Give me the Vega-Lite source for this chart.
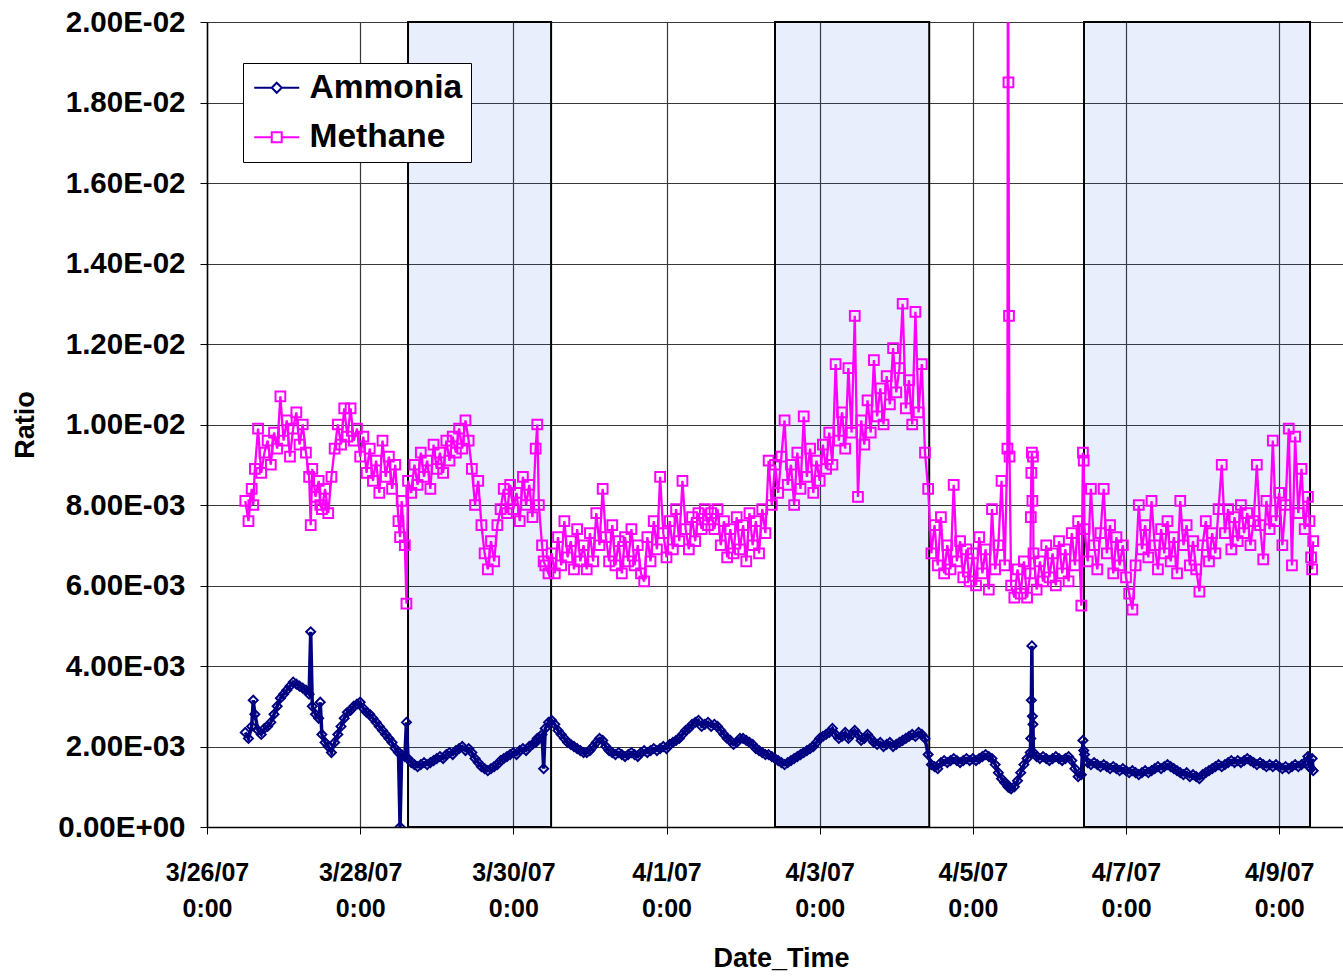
{
  "$schema": "https://vega.github.io/schema/vega-lite/v6.json",
  "width": 1136,
  "height": 805,
  "autosize": {"type": "none"},
  "padding": {"left": 207, "top": 22, "right": 0, "bottom": 149},
  "background": "white",
  "config": {
    "view": {"stroke": null},
    "font": "Liberation Sans",
    "axis": {
      "grid": true,
      "gridColor": "#383838",
      "gridWidth": 1.2,
      "domainColor": "black",
      "domainWidth": 1.5,
      "tickColor": "black",
      "tickSize": 7,
      "labelColor": "black",
      "labelFont": "Liberation Sans",
      "labelFontWeight": "bold",
      "titleColor": "black",
      "titleFont": "Liberation Sans",
      "titleFontWeight": "bold",
      "titleFontSize": 27,
      "labelOverlap": false,
      "labelFlush": false,
      "labelBound": false
    }
  },
  "layer": [
    {
      "data": {
        "values": [
          {"start": "2007-03-28T15:00", "end": "2007-03-30T11:50"},
          {"start": "2007-04-02T10:00", "end": "2007-04-04T10:20"},
          {"start": "2007-04-06T10:50", "end": "2007-04-09T09:40"}
        ]
      },
      "mark": {"type": "rect", "fill": "#1955D7", "fillOpacity": 0.1, "stroke": "black", "strokeWidth": 2},
      "encoding": {
        "x": {
          "field": "start",
          "type": "temporal",
          "scale": {
            "domain": [
              {"year": 2007, "month": 3, "date": 26},
              {"year": 2007, "month": 4, "date": 9, "hours": 20}
            ],
            "nice": false
          },
          "axis": {
            "title": "Date_Time",
            "titlePadding": 24,
            "titleX": 574,
            "values": [
              {"year": 2007, "month": 3, "date": 26},
              {"year": 2007, "month": 3, "date": 28},
              {"year": 2007, "month": 3, "date": 30},
              {"year": 2007, "month": 4, "date": 1},
              {"year": 2007, "month": 4, "date": 3},
              {"year": 2007, "month": 4, "date": 5},
              {"year": 2007, "month": 4, "date": 7},
              {"year": 2007, "month": 4, "date": 9}
            ],
            "labelExpr": "[timeFormat(datum.value, '%-m/%-d/%y'), '0:00']",
            "labelFontSize": 25,
            "labelLineHeight": 36,
            "labelBaseline": "top",
            "labelPadding": 26
          }
        },
        "x2": {"field": "end"},
        "y": {
          "datum": 0,
          "type": "quantitative",
          "scale": {"domain": [0, 0.02], "nice": false},
          "axis": {
            "title": "Ratio",
            "titlePadding": 18,
            "values": [0, 0.002, 0.004, 0.006, 0.008, 0.01, 0.012, 0.014, 0.016, 0.018, 0.02],
            "labelExpr": "datum.value == 0 ? '0.00E+00' : (datum.value < 0.0099 ? format(datum.value * 1000, '.2f') + 'E-03' : format(datum.value * 100, '.2f') + 'E-02')",
            "labelFontSize": 29.5,
            "labelPadding": 15
          }
        },
        "y2": {"datum": 0.02}
      }
    },
    {
      "data": {
        "values": [
          {"t":"2007-03-26T12:00","Ammonia":0.00235,"Methane":0.0081},
          {"t":"2007-03-26T13:00","Ammonia":0.0022,"Methane":0.0076},
          {"t":"2007-03-26T14:00","Ammonia":0.0025,"Methane":0.0084},
          {"t":"2007-03-26T14:30","Ammonia":0.00315,"Methane":0.008},
          {"t":"2007-03-26T15:00","Ammonia":0.0028,"Methane":0.0089},
          {"t":"2007-03-26T16:00","Ammonia":0.0024,"Methane":0.0099},
          {"t":"2007-03-26T17:00","Ammonia":0.0023,"Methane":0.0088},
          {"t":"2007-03-26T18:00","Ammonia":0.00245,"Methane":0.0093},
          {"t":"2007-03-26T19:00","Ammonia":0.0025,"Methane":0.0096},
          {"t":"2007-03-26T20:00","Ammonia":0.0026,"Methane":0.009},
          {"t":"2007-03-26T21:00","Ammonia":0.0028,"Methane":0.0098},
          {"t":"2007-03-26T22:00","Ammonia":0.003,"Methane":0.0094},
          {"t":"2007-03-26T23:00","Ammonia":0.0032,"Methane":0.0107},
          {"t":"2007-03-27T00:00","Ammonia":0.0033,"Methane":0.0096},
          {"t":"2007-03-27T01:00","Ammonia":0.0034,"Methane":0.0101},
          {"t":"2007-03-27T02:00","Ammonia":0.0035,"Methane":0.0092},
          {"t":"2007-03-27T03:00","Ammonia":0.0036,"Methane":0.0099},
          {"t":"2007-03-27T04:00","Ammonia":0.00355,"Methane":0.0103},
          {"t":"2007-03-27T05:00","Ammonia":0.0035,"Methane":0.0095},
          {"t":"2007-03-27T06:00","Ammonia":0.00345,"Methane":0.01},
          {"t":"2007-03-27T07:00","Ammonia":0.0034,"Methane":0.0093},
          {"t":"2007-03-27T08:00","Ammonia":0.0033,"Methane":0.0087},
          {"t":"2007-03-27T08:30","Ammonia":0.00485,"Methane":0.0075},
          {"t":"2007-03-27T09:00","Ammonia":0.003,"Methane":0.0089},
          {"t":"2007-03-27T10:00","Ammonia":0.0028,"Methane":0.0082},
          {"t":"2007-03-27T11:00","Ammonia":0.0027,"Methane":0.0086},
          {"t":"2007-03-27T11:30","Ammonia":0.0031,"Methane":0.008},
          {"t":"2007-03-27T12:00","Ammonia":0.0023,"Methane":0.0079},
          {"t":"2007-03-27T13:00","Ammonia":0.0021,"Methane":0.0084},
          {"t":"2007-03-27T14:00","Ammonia":0.002,"Methane":0.0078},
          {"t":"2007-03-27T15:00","Ammonia":0.00185,"Methane":0.0087},
          {"t":"2007-03-27T16:00","Ammonia":0.0021,"Methane":0.0094},
          {"t":"2007-03-27T17:00","Ammonia":0.0023,"Methane":0.01},
          {"t":"2007-03-27T18:00","Ammonia":0.0025,"Methane":0.0095},
          {"t":"2007-03-27T19:00","Ammonia":0.0027,"Methane":0.0104},
          {"t":"2007-03-27T20:00","Ammonia":0.00285,"Methane":0.0097},
          {"t":"2007-03-27T21:00","Ammonia":0.0029,"Methane":0.0104},
          {"t":"2007-03-27T22:00","Ammonia":0.003,"Methane":0.0096},
          {"t":"2007-03-27T23:00","Ammonia":0.00305,"Methane":0.0099},
          {"t":"2007-03-28T00:00","Ammonia":0.0031,"Methane":0.0092},
          {"t":"2007-03-28T01:00","Ammonia":0.00295,"Methane":0.0097},
          {"t":"2007-03-28T02:00","Ammonia":0.00285,"Methane":0.0088},
          {"t":"2007-03-28T03:00","Ammonia":0.0028,"Methane":0.0094},
          {"t":"2007-03-28T04:00","Ammonia":0.0027,"Methane":0.0086},
          {"t":"2007-03-28T05:00","Ammonia":0.0026,"Methane":0.0091},
          {"t":"2007-03-28T06:00","Ammonia":0.0025,"Methane":0.0083},
          {"t":"2007-03-28T07:00","Ammonia":0.0024,"Methane":0.0096},
          {"t":"2007-03-28T08:00","Ammonia":0.0023,"Methane":0.0087},
          {"t":"2007-03-28T09:00","Ammonia":0.0022,"Methane":0.0092},
          {"t":"2007-03-28T10:00","Ammonia":0.0021,"Methane":0.0084},
          {"t":"2007-03-28T11:00","Ammonia":0.00195,"Methane":0.009},
          {"t":"2007-03-28T12:00","Ammonia":0.00185,"Methane":0.0076},
          {"t":"2007-03-28T12:30","Ammonia":0.0,"Methane":0.0072},
          {"t":"2007-03-28T13:00","Ammonia":0.0018,"Methane":0.0081},
          {"t":"2007-03-28T14:00","Ammonia":0.00175,"Methane":0.007},
          {"t":"2007-03-28T14:30","Ammonia":0.0026,"Methane":0.00555},
          {"t":"2007-03-28T15:00","Ammonia":0.0017,"Methane":0.0086},
          {"t":"2007-03-28T16:00","Ammonia":0.0016,"Methane":0.0083},
          {"t":"2007-03-28T17:00","Ammonia":0.00155,"Methane":0.009},
          {"t":"2007-03-28T18:00","Ammonia":0.0015,"Methane":0.0085},
          {"t":"2007-03-28T19:00","Ammonia":0.00155,"Methane":0.0093},
          {"t":"2007-03-28T20:00","Ammonia":0.0016,"Methane":0.0087},
          {"t":"2007-03-28T21:00","Ammonia":0.00155,"Methane":0.0091},
          {"t":"2007-03-28T22:00","Ammonia":0.0016,"Methane":0.0084},
          {"t":"2007-03-28T23:00","Ammonia":0.00165,"Methane":0.0095},
          {"t":"2007-03-29T00:00","Ammonia":0.0017,"Methane":0.0089},
          {"t":"2007-03-29T01:00","Ammonia":0.00175,"Methane":0.0093},
          {"t":"2007-03-29T02:00","Ammonia":0.0017,"Methane":0.0088},
          {"t":"2007-03-29T03:00","Ammonia":0.0018,"Methane":0.0096},
          {"t":"2007-03-29T04:00","Ammonia":0.00185,"Methane":0.0091},
          {"t":"2007-03-29T05:00","Ammonia":0.0018,"Methane":0.0097},
          {"t":"2007-03-29T06:00","Ammonia":0.0019,"Methane":0.0093},
          {"t":"2007-03-29T07:00","Ammonia":0.00195,"Methane":0.0099},
          {"t":"2007-03-29T08:00","Ammonia":0.002,"Methane":0.0094},
          {"t":"2007-03-29T09:00","Ammonia":0.0019,"Methane":0.0101},
          {"t":"2007-03-29T10:00","Ammonia":0.00195,"Methane":0.0096},
          {"t":"2007-03-29T11:00","Ammonia":0.00185,"Methane":0.0089},
          {"t":"2007-03-29T12:00","Ammonia":0.0017,"Methane":0.008},
          {"t":"2007-03-29T13:00","Ammonia":0.0016,"Methane":0.0086},
          {"t":"2007-03-29T14:00","Ammonia":0.0015,"Methane":0.0075},
          {"t":"2007-03-29T15:00","Ammonia":0.00145,"Methane":0.0068},
          {"t":"2007-03-29T16:00","Ammonia":0.0014,"Methane":0.0064},
          {"t":"2007-03-29T17:00","Ammonia":0.00145,"Methane":0.0071},
          {"t":"2007-03-29T18:00","Ammonia":0.0015,"Methane":0.0066},
          {"t":"2007-03-29T19:00","Ammonia":0.00155,"Methane":0.0075},
          {"t":"2007-03-29T20:00","Ammonia":0.00165,"Methane":0.0079},
          {"t":"2007-03-29T21:00","Ammonia":0.0017,"Methane":0.0084},
          {"t":"2007-03-29T22:00","Ammonia":0.00175,"Methane":0.0078},
          {"t":"2007-03-29T23:00","Ammonia":0.0018,"Methane":0.0085},
          {"t":"2007-03-30T00:00","Ammonia":0.00185,"Methane":0.0079},
          {"t":"2007-03-30T01:00","Ammonia":0.0018,"Methane":0.0083},
          {"t":"2007-03-30T02:00","Ammonia":0.0019,"Methane":0.0076},
          {"t":"2007-03-30T03:00","Ammonia":0.00195,"Methane":0.0087},
          {"t":"2007-03-30T04:00","Ammonia":0.0019,"Methane":0.008},
          {"t":"2007-03-30T05:00","Ammonia":0.002,"Methane":0.0085},
          {"t":"2007-03-30T06:00","Ammonia":0.00205,"Methane":0.0077},
          {"t":"2007-03-30T07:00","Ammonia":0.0021,"Methane":0.0094},
          {"t":"2007-03-30T07:30","Ammonia":0.0022,"Methane":0.01},
          {"t":"2007-03-30T08:00","Ammonia":0.0022,"Methane":0.008},
          {"t":"2007-03-30T09:00","Ammonia":0.0023,"Methane":0.007},
          {"t":"2007-03-30T09:30","Ammonia":0.00145,"Methane":0.0066},
          {"t":"2007-03-30T10:00","Ammonia":0.00245,"Methane":0.0065},
          {"t":"2007-03-30T11:00","Ammonia":0.0026,"Methane":0.0063},
          {"t":"2007-03-30T12:00","Ammonia":0.00265,"Methane":0.0068},
          {"t":"2007-03-30T13:00","Ammonia":0.00255,"Methane":0.0063},
          {"t":"2007-03-30T14:00","Ammonia":0.0024,"Methane":0.0072},
          {"t":"2007-03-30T15:00","Ammonia":0.0023,"Methane":0.0065},
          {"t":"2007-03-30T16:00","Ammonia":0.0022,"Methane":0.0076},
          {"t":"2007-03-30T17:00","Ammonia":0.0021,"Methane":0.0067},
          {"t":"2007-03-30T18:00","Ammonia":0.00205,"Methane":0.0071},
          {"t":"2007-03-30T19:00","Ammonia":0.002,"Methane":0.0064},
          {"t":"2007-03-30T20:00","Ammonia":0.00195,"Methane":0.0074},
          {"t":"2007-03-30T21:00","Ammonia":0.0019,"Methane":0.0066},
          {"t":"2007-03-30T22:00","Ammonia":0.00185,"Methane":0.007},
          {"t":"2007-03-30T23:00","Ammonia":0.00185,"Methane":0.0064},
          {"t":"2007-03-31T00:00","Ammonia":0.0019,"Methane":0.0073},
          {"t":"2007-03-31T01:00","Ammonia":0.002,"Methane":0.0066},
          {"t":"2007-03-31T02:00","Ammonia":0.0021,"Methane":0.0078},
          {"t":"2007-03-31T03:00","Ammonia":0.0022,"Methane":0.007},
          {"t":"2007-03-31T04:00","Ammonia":0.00215,"Methane":0.0084},
          {"t":"2007-03-31T05:00","Ammonia":0.002,"Methane":0.0072},
          {"t":"2007-03-31T06:00","Ammonia":0.0019,"Methane":0.0066},
          {"t":"2007-03-31T07:00","Ammonia":0.00185,"Methane":0.0075},
          {"t":"2007-03-31T08:00","Ammonia":0.0018,"Methane":0.0065},
          {"t":"2007-03-31T09:00","Ammonia":0.00185,"Methane":0.0071},
          {"t":"2007-03-31T10:00","Ammonia":0.0018,"Methane":0.0063},
          {"t":"2007-03-31T11:00","Ammonia":0.00175,"Methane":0.0072},
          {"t":"2007-03-31T12:00","Ammonia":0.0018,"Methane":0.0066},
          {"t":"2007-03-31T13:00","Ammonia":0.00185,"Methane":0.0074},
          {"t":"2007-03-31T14:00","Ammonia":0.0018,"Methane":0.0065},
          {"t":"2007-03-31T15:00","Ammonia":0.00175,"Methane":0.007},
          {"t":"2007-03-31T16:00","Ammonia":0.00185,"Methane":0.0063},
          {"t":"2007-03-31T17:00","Ammonia":0.0019,"Methane":0.0061},
          {"t":"2007-03-31T18:00","Ammonia":0.00185,"Methane":0.0072},
          {"t":"2007-03-31T19:00","Ammonia":0.0019,"Methane":0.0066},
          {"t":"2007-03-31T20:00","Ammonia":0.00195,"Methane":0.0076},
          {"t":"2007-03-31T21:00","Ammonia":0.0019,"Methane":0.0069},
          {"t":"2007-03-31T22:00","Ammonia":0.00195,"Methane":0.0087},
          {"t":"2007-03-31T23:00","Ammonia":0.002,"Methane":0.0073},
          {"t":"2007-04-01T00:00","Ammonia":0.00195,"Methane":0.0067},
          {"t":"2007-04-01T01:00","Ammonia":0.00205,"Methane":0.0076},
          {"t":"2007-04-01T02:00","Ammonia":0.0021,"Methane":0.0069},
          {"t":"2007-04-01T03:00","Ammonia":0.00215,"Methane":0.0079},
          {"t":"2007-04-01T04:00","Ammonia":0.0022,"Methane":0.0071},
          {"t":"2007-04-01T05:00","Ammonia":0.0023,"Methane":0.0086},
          {"t":"2007-04-01T06:00","Ammonia":0.0024,"Methane":0.0074},
          {"t":"2007-04-01T07:00","Ammonia":0.00245,"Methane":0.0069},
          {"t":"2007-04-01T08:00","Ammonia":0.00255,"Methane":0.0077},
          {"t":"2007-04-01T09:00","Ammonia":0.0026,"Methane":0.0071},
          {"t":"2007-04-01T10:00","Ammonia":0.00265,"Methane":0.0078},
          {"t":"2007-04-01T11:00","Ammonia":0.0025,"Methane":0.0074},
          {"t":"2007-04-01T12:00","Ammonia":0.00255,"Methane":0.0079},
          {"t":"2007-04-01T13:00","Ammonia":0.0026,"Methane":0.0075},
          {"t":"2007-04-01T14:00","Ammonia":0.0025,"Methane":0.0078},
          {"t":"2007-04-01T15:00","Ammonia":0.00255,"Methane":0.0074},
          {"t":"2007-04-01T16:00","Ammonia":0.0025,"Methane":0.0079},
          {"t":"2007-04-01T17:00","Ammonia":0.0024,"Methane":0.007},
          {"t":"2007-04-01T18:00","Ammonia":0.0023,"Methane":0.0076},
          {"t":"2007-04-01T19:00","Ammonia":0.0022,"Methane":0.0067},
          {"t":"2007-04-01T20:00","Ammonia":0.00215,"Methane":0.0074},
          {"t":"2007-04-01T21:00","Ammonia":0.00205,"Methane":0.0068},
          {"t":"2007-04-01T22:00","Ammonia":0.0021,"Methane":0.0077},
          {"t":"2007-04-01T23:00","Ammonia":0.0022,"Methane":0.0069},
          {"t":"2007-04-02T00:00","Ammonia":0.0022,"Methane":0.0075},
          {"t":"2007-04-02T01:00","Ammonia":0.00215,"Methane":0.0066},
          {"t":"2007-04-02T02:00","Ammonia":0.0021,"Methane":0.0078},
          {"t":"2007-04-02T03:00","Ammonia":0.00205,"Methane":0.007},
          {"t":"2007-04-02T04:00","Ammonia":0.00195,"Methane":0.0076},
          {"t":"2007-04-02T05:00","Ammonia":0.0019,"Methane":0.0068},
          {"t":"2007-04-02T06:00","Ammonia":0.00185,"Methane":0.0079},
          {"t":"2007-04-02T07:00","Ammonia":0.0018,"Methane":0.0073},
          {"t":"2007-04-02T08:00","Ammonia":0.0018,"Methane":0.0091},
          {"t":"2007-04-02T09:00","Ammonia":0.00175,"Methane":0.008},
          {"t":"2007-04-02T10:00","Ammonia":0.0017,"Methane":0.009},
          {"t":"2007-04-02T11:00","Ammonia":0.00165,"Methane":0.0083},
          {"t":"2007-04-02T12:00","Ammonia":0.0016,"Methane":0.0092},
          {"t":"2007-04-02T13:00","Ammonia":0.00155,"Methane":0.0101},
          {"t":"2007-04-02T14:00","Ammonia":0.0016,"Methane":0.0085},
          {"t":"2007-04-02T15:00","Ammonia":0.00165,"Methane":0.009},
          {"t":"2007-04-02T16:00","Ammonia":0.0017,"Methane":0.008},
          {"t":"2007-04-02T17:00","Ammonia":0.00175,"Methane":0.0093},
          {"t":"2007-04-02T18:00","Ammonia":0.0018,"Methane":0.0084},
          {"t":"2007-04-02T19:00","Ammonia":0.00185,"Methane":0.0102},
          {"t":"2007-04-02T20:00","Ammonia":0.0019,"Methane":0.0087},
          {"t":"2007-04-02T21:00","Ammonia":0.00195,"Methane":0.0094},
          {"t":"2007-04-02T22:00","Ammonia":0.002,"Methane":0.0083},
          {"t":"2007-04-02T23:00","Ammonia":0.0021,"Methane":0.0091},
          {"t":"2007-04-03T00:00","Ammonia":0.0022,"Methane":0.0086},
          {"t":"2007-04-03T01:00","Ammonia":0.00225,"Methane":0.0095},
          {"t":"2007-04-03T02:00","Ammonia":0.0023,"Methane":0.0089},
          {"t":"2007-04-03T03:00","Ammonia":0.00235,"Methane":0.0098},
          {"t":"2007-04-03T04:00","Ammonia":0.00245,"Methane":0.009},
          {"t":"2007-04-03T05:00","Ammonia":0.0023,"Methane":0.0115},
          {"t":"2007-04-03T06:00","Ammonia":0.0022,"Methane":0.0096},
          {"t":"2007-04-03T07:00","Ammonia":0.00225,"Methane":0.0103},
          {"t":"2007-04-03T08:00","Ammonia":0.00235,"Methane":0.0094},
          {"t":"2007-04-03T09:00","Ammonia":0.0022,"Methane":0.0114},
          {"t":"2007-04-03T10:00","Ammonia":0.0023,"Methane":0.0098},
          {"t":"2007-04-03T11:00","Ammonia":0.0024,"Methane":0.0127},
          {"t":"2007-04-03T12:00","Ammonia":0.0023,"Methane":0.0082},
          {"t":"2007-04-03T13:00","Ammonia":0.00215,"Methane":0.0101},
          {"t":"2007-04-03T14:00","Ammonia":0.0022,"Methane":0.0095},
          {"t":"2007-04-03T15:00","Ammonia":0.0023,"Methane":0.0106},
          {"t":"2007-04-03T16:00","Ammonia":0.0022,"Methane":0.0098},
          {"t":"2007-04-03T17:00","Ammonia":0.0021,"Methane":0.0116},
          {"t":"2007-04-03T18:00","Ammonia":0.00205,"Methane":0.0102},
          {"t":"2007-04-03T19:00","Ammonia":0.0021,"Methane":0.0109},
          {"t":"2007-04-03T20:00","Ammonia":0.002,"Methane":0.01},
          {"t":"2007-04-03T21:00","Ammonia":0.00205,"Methane":0.0112},
          {"t":"2007-04-03T22:00","Ammonia":0.0021,"Methane":0.0105},
          {"t":"2007-04-03T23:00","Ammonia":0.002,"Methane":0.0119},
          {"t":"2007-04-04T00:00","Ammonia":0.00205,"Methane":0.0108},
          {"t":"2007-04-04T01:00","Ammonia":0.0021,"Methane":0.0114},
          {"t":"2007-04-04T02:00","Ammonia":0.00215,"Methane":0.013},
          {"t":"2007-04-04T03:00","Ammonia":0.0022,"Methane":0.0104},
          {"t":"2007-04-04T04:00","Ammonia":0.00225,"Methane":0.0111},
          {"t":"2007-04-04T05:00","Ammonia":0.0023,"Methane":0.01},
          {"t":"2007-04-04T06:00","Ammonia":0.00225,"Methane":0.0128},
          {"t":"2007-04-04T07:00","Ammonia":0.00235,"Methane":0.0103},
          {"t":"2007-04-04T08:00","Ammonia":0.0023,"Methane":0.0115},
          {"t":"2007-04-04T09:00","Ammonia":0.0022,"Methane":0.0093},
          {"t":"2007-04-04T10:00","Ammonia":0.0018,"Methane":0.0084},
          {"t":"2007-04-04T11:00","Ammonia":0.00155,"Methane":0.0068},
          {"t":"2007-04-04T12:00","Ammonia":0.0015,"Methane":0.0075},
          {"t":"2007-04-04T13:00","Ammonia":0.00145,"Methane":0.0065},
          {"t":"2007-04-04T14:00","Ammonia":0.0016,"Methane":0.0077},
          {"t":"2007-04-04T15:00","Ammonia":0.00165,"Methane":0.0063},
          {"t":"2007-04-04T16:00","Ammonia":0.0016,"Methane":0.007},
          {"t":"2007-04-04T17:00","Ammonia":0.00165,"Methane":0.0064},
          {"t":"2007-04-04T18:00","Ammonia":0.0017,"Methane":0.0085},
          {"t":"2007-04-04T19:00","Ammonia":0.00165,"Methane":0.0066},
          {"t":"2007-04-04T20:00","Ammonia":0.0016,"Methane":0.0071},
          {"t":"2007-04-04T21:00","Ammonia":0.00165,"Methane":0.0062},
          {"t":"2007-04-04T22:00","Ammonia":0.0017,"Methane":0.0069},
          {"t":"2007-04-04T23:00","Ammonia":0.00165,"Methane":0.0061},
          {"t":"2007-04-05T00:00","Ammonia":0.0017,"Methane":0.0068},
          {"t":"2007-04-05T01:00","Ammonia":0.00165,"Methane":0.006},
          {"t":"2007-04-05T02:00","Ammonia":0.0017,"Methane":0.0072},
          {"t":"2007-04-05T03:00","Ammonia":0.00175,"Methane":0.0063},
          {"t":"2007-04-05T04:00","Ammonia":0.0018,"Methane":0.0069},
          {"t":"2007-04-05T05:00","Ammonia":0.00175,"Methane":0.0059},
          {"t":"2007-04-05T06:00","Ammonia":0.0017,"Methane":0.0079},
          {"t":"2007-04-05T07:00","Ammonia":0.00155,"Methane":0.0064},
          {"t":"2007-04-05T08:00","Ammonia":0.00135,"Methane":0.007},
          {"t":"2007-04-05T09:00","Ammonia":0.0012,"Methane":0.0086},
          {"t":"2007-04-05T10:00","Ammonia":0.0011,"Methane":0.0065},
          {"t":"2007-04-05T10:50","Ammonia":0.00105,"Methane":0.0094},
          {"t":"2007-04-05T11:00","Ammonia":0.001,"Methane":0.024},
          {"t":"2007-04-05T11:10","Ammonia":0.001,"Methane":0.0185},
          {"t":"2007-04-05T11:20","Ammonia":0.001,"Methane":0.0127},
          {"t":"2007-04-05T11:30","Ammonia":0.00098,"Methane":0.0092},
          {"t":"2007-04-05T12:00","Ammonia":0.00095,"Methane":0.006},
          {"t":"2007-04-05T13:00","Ammonia":0.001,"Methane":0.0057},
          {"t":"2007-04-05T14:00","Ammonia":0.00115,"Methane":0.0064},
          {"t":"2007-04-05T15:00","Ammonia":0.00135,"Methane":0.0058},
          {"t":"2007-04-05T16:00","Ammonia":0.00155,"Methane":0.0066},
          {"t":"2007-04-05T17:00","Ammonia":0.0017,"Methane":0.0057},
          {"t":"2007-04-05T18:00","Ammonia":0.00185,"Methane":0.0063},
          {"t":"2007-04-05T18:10","Ammonia":0.0022,"Methane":0.0077},
          {"t":"2007-04-05T18:20","Ammonia":0.00315,"Methane":0.0088},
          {"t":"2007-04-05T18:30","Ammonia":0.0045,"Methane":0.0093},
          {"t":"2007-04-05T18:40","Ammonia":0.00275,"Methane":0.0081},
          {"t":"2007-04-05T18:50","Ammonia":0.00255,"Methane":0.0092},
          {"t":"2007-04-05T19:00","Ammonia":0.00185,"Methane":0.0068},
          {"t":"2007-04-05T20:00","Ammonia":0.00175,"Methane":0.0059},
          {"t":"2007-04-05T21:00","Ammonia":0.0017,"Methane":0.0066},
          {"t":"2007-04-05T22:00","Ammonia":0.00175,"Methane":0.0061},
          {"t":"2007-04-05T23:00","Ammonia":0.0017,"Methane":0.007},
          {"t":"2007-04-06T00:00","Ammonia":0.00165,"Methane":0.0062},
          {"t":"2007-04-06T01:00","Ammonia":0.0017,"Methane":0.0068},
          {"t":"2007-04-06T02:00","Ammonia":0.00175,"Methane":0.006},
          {"t":"2007-04-06T03:00","Ammonia":0.0017,"Methane":0.0071},
          {"t":"2007-04-06T04:00","Ammonia":0.00165,"Methane":0.0063},
          {"t":"2007-04-06T05:00","Ammonia":0.0017,"Methane":0.0069},
          {"t":"2007-04-06T06:00","Ammonia":0.00175,"Methane":0.0061},
          {"t":"2007-04-06T07:00","Ammonia":0.00165,"Methane":0.0073},
          {"t":"2007-04-06T08:00","Ammonia":0.00145,"Methane":0.0065},
          {"t":"2007-04-06T09:00","Ammonia":0.00125,"Methane":0.0076},
          {"t":"2007-04-06T10:00","Ammonia":0.0013,"Methane":0.0055},
          {"t":"2007-04-06T10:30","Ammonia":0.00215,"Methane":0.0093},
          {"t":"2007-04-06T10:45","Ammonia":0.0019,"Methane":0.0091},
          {"t":"2007-04-06T11:00","Ammonia":0.0018,"Methane":0.0074},
          {"t":"2007-04-06T12:00","Ammonia":0.0016,"Methane":0.0066},
          {"t":"2007-04-06T13:00","Ammonia":0.00155,"Methane":0.0084},
          {"t":"2007-04-06T14:00","Ammonia":0.0016,"Methane":0.007},
          {"t":"2007-04-06T15:00","Ammonia":0.00155,"Methane":0.0064},
          {"t":"2007-04-06T16:00","Ammonia":0.0015,"Methane":0.0073},
          {"t":"2007-04-06T17:00","Ammonia":0.00155,"Methane":0.0084},
          {"t":"2007-04-06T18:00","Ammonia":0.0015,"Methane":0.0068},
          {"t":"2007-04-06T19:00","Ammonia":0.00145,"Methane":0.0075},
          {"t":"2007-04-06T20:00","Ammonia":0.0015,"Methane":0.0063},
          {"t":"2007-04-06T21:00","Ammonia":0.00145,"Methane":0.0072},
          {"t":"2007-04-06T22:00","Ammonia":0.0014,"Methane":0.0065},
          {"t":"2007-04-06T23:00","Ammonia":0.00145,"Methane":0.007},
          {"t":"2007-04-07T00:00","Ammonia":0.0014,"Methane":0.0062},
          {"t":"2007-04-07T01:00","Ammonia":0.00135,"Methane":0.0058},
          {"t":"2007-04-07T02:00","Ammonia":0.0014,"Methane":0.0054},
          {"t":"2007-04-07T03:00","Ammonia":0.00135,"Methane":0.0065},
          {"t":"2007-04-07T04:00","Ammonia":0.0013,"Methane":0.008},
          {"t":"2007-04-07T05:00","Ammonia":0.00135,"Methane":0.0069},
          {"t":"2007-04-07T06:00","Ammonia":0.0014,"Methane":0.0075},
          {"t":"2007-04-07T07:00","Ammonia":0.00135,"Methane":0.0067},
          {"t":"2007-04-07T08:00","Ammonia":0.0014,"Methane":0.0081},
          {"t":"2007-04-07T09:00","Ammonia":0.00145,"Methane":0.007},
          {"t":"2007-04-07T10:00","Ammonia":0.0015,"Methane":0.0064},
          {"t":"2007-04-07T11:00","Ammonia":0.00145,"Methane":0.0074},
          {"t":"2007-04-07T12:00","Ammonia":0.0015,"Methane":0.0068},
          {"t":"2007-04-07T13:00","Ammonia":0.00155,"Methane":0.0076},
          {"t":"2007-04-07T14:00","Ammonia":0.0015,"Methane":0.0066},
          {"t":"2007-04-07T15:00","Ammonia":0.00145,"Methane":0.0072},
          {"t":"2007-04-07T16:00","Ammonia":0.0014,"Methane":0.0063},
          {"t":"2007-04-07T17:00","Ammonia":0.00135,"Methane":0.0081},
          {"t":"2007-04-07T18:00","Ammonia":0.0013,"Methane":0.007},
          {"t":"2007-04-07T19:00","Ammonia":0.00135,"Methane":0.0075},
          {"t":"2007-04-07T20:00","Ammonia":0.00125,"Methane":0.0065},
          {"t":"2007-04-07T21:00","Ammonia":0.0013,"Methane":0.0071},
          {"t":"2007-04-07T22:00","Ammonia":0.00125,"Methane":0.0064},
          {"t":"2007-04-07T23:00","Ammonia":0.0012,"Methane":0.00585},
          {"t":"2007-04-08T00:00","Ammonia":0.0013,"Methane":0.007},
          {"t":"2007-04-08T01:00","Ammonia":0.00135,"Methane":0.0076},
          {"t":"2007-04-08T02:00","Ammonia":0.0014,"Methane":0.0066},
          {"t":"2007-04-08T03:00","Ammonia":0.00145,"Methane":0.0073},
          {"t":"2007-04-08T04:00","Ammonia":0.0015,"Methane":0.0068},
          {"t":"2007-04-08T05:00","Ammonia":0.00155,"Methane":0.0079},
          {"t":"2007-04-08T06:00","Ammonia":0.0015,"Methane":0.009},
          {"t":"2007-04-08T07:00","Ammonia":0.00155,"Methane":0.0073},
          {"t":"2007-04-08T08:00","Ammonia":0.0016,"Methane":0.0079},
          {"t":"2007-04-08T09:00","Ammonia":0.00165,"Methane":0.0069},
          {"t":"2007-04-08T10:00","Ammonia":0.0016,"Methane":0.0077},
          {"t":"2007-04-08T11:00","Ammonia":0.00165,"Methane":0.0071},
          {"t":"2007-04-08T12:00","Ammonia":0.0016,"Methane":0.008},
          {"t":"2007-04-08T13:00","Ammonia":0.00165,"Methane":0.0073},
          {"t":"2007-04-08T14:00","Ammonia":0.0017,"Methane":0.0078},
          {"t":"2007-04-08T15:00","Ammonia":0.00165,"Methane":0.007},
          {"t":"2007-04-08T16:00","Ammonia":0.0016,"Methane":0.0076},
          {"t":"2007-04-08T17:00","Ammonia":0.00155,"Methane":0.009},
          {"t":"2007-04-08T18:00","Ammonia":0.0016,"Methane":0.0075},
          {"t":"2007-04-08T19:00","Ammonia":0.00155,"Methane":0.00665},
          {"t":"2007-04-08T20:00","Ammonia":0.0015,"Methane":0.0081},
          {"t":"2007-04-08T21:00","Ammonia":0.00155,"Methane":0.0074},
          {"t":"2007-04-08T22:00","Ammonia":0.0015,"Methane":0.0096},
          {"t":"2007-04-08T23:00","Ammonia":0.00155,"Methane":0.0076},
          {"t":"2007-04-09T00:00","Ammonia":0.0015,"Methane":0.0083},
          {"t":"2007-04-09T01:00","Ammonia":0.00145,"Methane":0.007},
          {"t":"2007-04-09T02:00","Ammonia":0.0015,"Methane":0.008},
          {"t":"2007-04-09T03:00","Ammonia":0.00145,"Methane":0.0099},
          {"t":"2007-04-09T04:00","Ammonia":0.0015,"Methane":0.0065},
          {"t":"2007-04-09T05:00","Ammonia":0.00155,"Methane":0.0097},
          {"t":"2007-04-09T06:00","Ammonia":0.0015,"Methane":0.0078},
          {"t":"2007-04-09T07:00","Ammonia":0.00155,"Methane":0.0089},
          {"t":"2007-04-09T08:00","Ammonia":0.0016,"Methane":0.0074},
          {"t":"2007-04-09T09:00","Ammonia":0.00175,"Methane":0.0082},
          {"t":"2007-04-09T09:30","Ammonia":0.0015,"Methane":0.0076},
          {"t":"2007-04-09T10:00","Ammonia":0.00145,"Methane":0.0067},
          {"t":"2007-04-09T10:20","Ammonia":0.0017,"Methane":0.0064},
          {"t":"2007-04-09T10:40","Ammonia":0.0014,"Methane":0.0071}
        ]
      },
      "transform": [{"fold": ["Ammonia", "Methane"], "as": ["key", "value"]}],
      "layer": [
        {
          "mark": {"type": "line", "clip": true},
          "encoding": {
            "x": {"field": "t", "type": "temporal", "axis": {"title": "Date_Time"}},
            "y": {"field": "value", "type": "quantitative", "axis": {"title": "Ratio"}},
            "strokeWidth": {"condition": {"test": "datum.key == 'Ammonia'", "value": 3.5}, "value": 2.3},
            "color": {
              "field": "key",
              "type": "nominal",
              "scale": {"domain": ["Ammonia", "Methane"], "range": ["#000080", "#FF00FF"]},
              "legend": {
                "orient": "none",
                "legendX": 36,
                "legendY": 41,
                "title": null,
                "direction": "vertical",
                "padding": 8,
                "rowPadding": 14.5,
                "strokeColor": "black",
                "fillColor": "white",
                "labelFont": "Liberation Sans",
                "labelFontSize": 33.5,
                "labelFontWeight": "bold",
                "labelColor": "black",
                "labelOffset": 25,
                "labelLimit": 400,
                "symbolSize": 625,
                "symbolStrokeWidth": 2
              }
            }
          }
        },
        {
          "transform": [{"filter": "false"}],
          "mark": {"type": "point", "filled": false, "strokeWidth": 2, "opacity": 1},
          "encoding": {
            "x": {"field": "t", "type": "temporal", "axis": {"title": "Date_Time"}},
            "y": {"field": "value", "type": "quantitative", "axis": {"title": "Ratio"}},
            "color": {"field": "key", "type": "nominal"},
            "shape": {
              "field": "key",
              "type": "nominal",
              "scale": {
                "domain": ["Ammonia", "Methane"],
                "range": [
                  "M-1.08,0H0.32M1.12,0H2.52M0.72,-0.4L1.12,0L0.72,0.4L0.32,0Z",
                  "M-1.08,0H0.32M1.12,0H2.52M0.32,-0.4H1.12V0.4H0.32Z"
                ]
              }
            }
          }
        },
        {
          "transform": [{"filter": "datum.key == 'Ammonia'"}],
          "mark": {"type": "point", "shape": "diamond", "filled": false, "strokeWidth": 2, "size": 80, "opacity": 1, "clip": true},
          "encoding": {
            "x": {"field": "t", "type": "temporal", "axis": {"title": "Date_Time"}},
            "y": {"field": "value", "type": "quantitative", "axis": {"title": "Ratio"}},
            "color": {"field": "key", "type": "nominal"}
          }
        },
        {
          "transform": [{"filter": "datum.key == 'Methane'"}],
          "mark": {"type": "point", "shape": "square", "filled": false, "strokeWidth": 2, "size": 95, "opacity": 1, "clip": true},
          "encoding": {
            "x": {"field": "t", "type": "temporal", "axis": {"title": "Date_Time"}},
            "y": {"field": "value", "type": "quantitative", "axis": {"title": "Ratio"}},
            "color": {"field": "key", "type": "nominal"}
          }
        }
      ]
    }
  ]
}
